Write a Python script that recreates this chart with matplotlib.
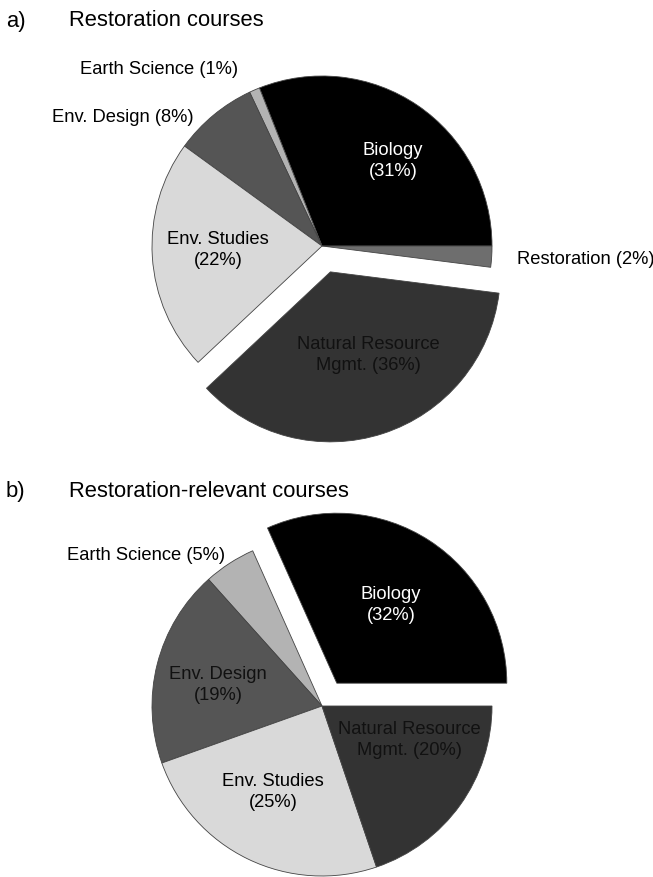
import matplotlib
matplotlib.use("Agg")
import matplotlib.pyplot as plt

plt.rcParams["font.family"] = ["Liberation Sans", "DejaVu Sans"]

# panel a) restoration courses
a_labels = ["Biology", "Earth Science", "Env. Design", "Env. Studies",
            "Natural Resource Mgmt.", "Restoration"]
a_values = [31, 1, 8, 22, 36, 2]
a_explode = [0, 0, 0, 0, 0.16, 0]
a_colors = ["#000000", "#b3b3b3", "#555555", "#d9d9d9", "#333333", "#6e6e6e"]

# panel b) restoration-relevant courses
b_labels = ["Biology", "Earth Science", "Env. Design", "Env. Studies",
            "Natural Resource Mgmt."]
b_values = [32, 5, 19, 25, 20]
b_explode = [0.16, 0, 0, 0, 0]
b_colors = ["#000000", "#b3b3b3", "#555555", "#d9d9d9", "#333333"]

W, H = 653, 878
fig = plt.figure(figsize=(W / 100, H / 100), dpi=100)
ax = fig.add_axes([0, 0, 1, 1])

R = 170
wedge_style = dict(edgecolor="#444444", linewidth=0.6)

# pie explode is in data units, so scale the fractions by the radius
ax.pie(a_values, explode=[e * R for e in a_explode], colors=a_colors,
       startangle=0, counterclock=True, radius=R, center=(322, -247),
       wedgeprops=wedge_style, frame=True)
ax.pie(b_values, explode=[e * R for e in b_explode], colors=b_colors,
       startangle=0, counterclock=True, radius=R, center=(322, -707),
       wedgeprops=wedge_style, frame=True)
ax.set_xlim(0, W)
ax.set_ylim(-H, 0)
ax.set_aspect("equal")
ax.axis("off")

fs = 13.2
tfs = 15.8
ls = 1.25

# titles
ax.text(6, -21, "a)", fontsize=tfs, va="center", ha="left")
ax.text(69, -21, "Restoration courses", fontsize=tfs, va="center", ha="left")
ax.text(6, -492, "b)", fontsize=tfs, va="center", ha="left")
ax.text(69, -492, "Restoration-relevant courses", fontsize=tfs,
        va="center", ha="left")

# labels, panel a
ax.text(159, -69, "Earth Science (1%)", fontsize=fs, ha="center", va="center")
ax.text(123, -118, "Env. Design (8%)", fontsize=fs, ha="center", va="center")
ax.text(393, -161, "Biology\n(31%)", fontsize=fs, ha="center", va="center",
        color="white", linespacing=ls)
ax.text(218, -250, "Env. Studies\n(22%)", fontsize=fs, ha="center",
        va="center", linespacing=ls)
ax.text(517, -260, "Restoration (2%)", fontsize=fs, ha="left", va="center")
ax.text(368, -355, "Natural Resource\nMgmt. (36%)", fontsize=fs,
        ha="center", va="center", color="#111111", linespacing=ls)

# labels, panel b
ax.text(146, -556, "Earth Science (5%)", fontsize=fs, ha="center", va="center")
ax.text(391, -605, "Biology\n(32%)", fontsize=fs, ha="center", va="center",
        color="white", linespacing=ls)
ax.text(218, -685, "Env. Design\n(19%)", fontsize=fs, ha="center",
        va="center", color="#111111", linespacing=ls)
ax.text(409, -740, "Natural Resource\nMgmt. (20%)", fontsize=fs,
        ha="center", va="center", color="#111111", linespacing=ls)
ax.text(273, -792, "Env. Studies\n(25%)", fontsize=fs, ha="center",
        va="center", linespacing=ls)

fig.savefig("out.png", dpi=100)
